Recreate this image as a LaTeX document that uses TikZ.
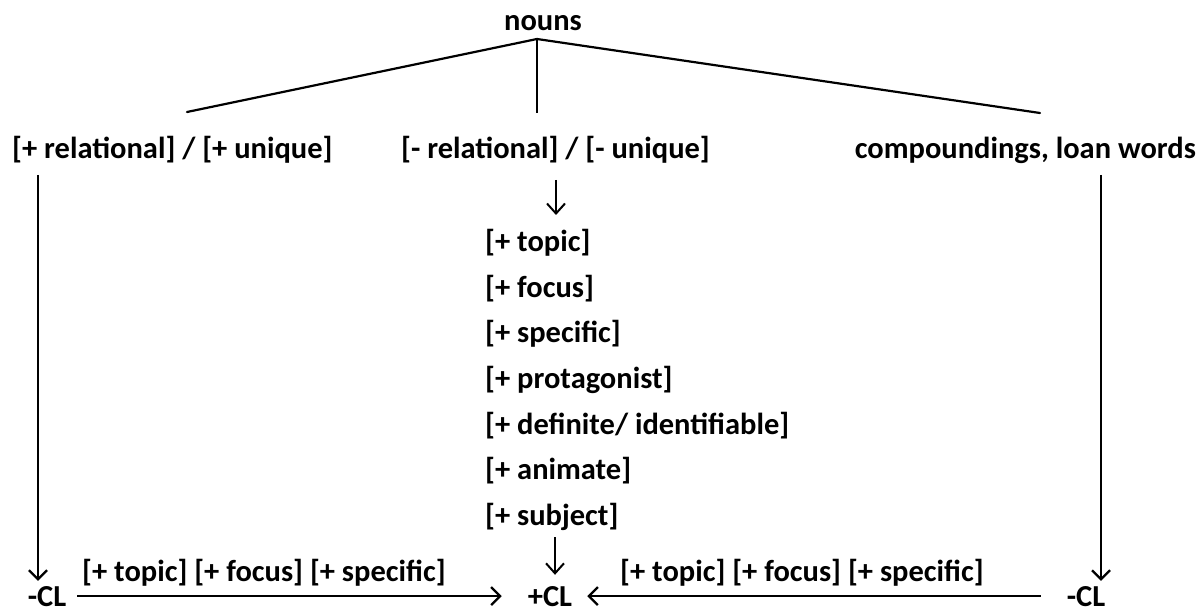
\documentclass[tikz,border=0pt]{standalone}
\usepackage{fontspec}
\setmainfont{Carlito}
\usetikzlibrary{arrows.meta}
\begin{document}
\begin{tikzpicture}[x=1pt,y=-1pt,
  lbl/.style={font=\bfseries\fontsize{30.5}{36}\selectfont, inner sep=0pt, anchor=base},
  feat/.style={lbl, anchor=base west},
  branch/.style={line width=2.2pt},
  longarr/.style={line width=2.2pt, -{Straight Barb[length=9pt,width=18pt,line width=2.2pt]}},
  shortarr/.style={line width=2pt, -{Straight Barb[length=10pt,width=18pt,line width=2pt]}}]
\useasboundingbox (0,0) rectangle (1200,612);

% tree
\node[lbl] (nouns) at (543,31) {nouns};
\coordinate (apex) at (537,39);
\coordinate (tl) at (187,112);
\coordinate (tm) at (537,113);
\coordinate (tr) at (1040,113);
\draw[branch, line cap=round] (tl) -- (apex) -- (tr);
\draw[branch] (apex) -- (tm);

\node[lbl, anchor=base west] (rel)  at (12,159) {[+ relational] / [+ unique]};
\node[lbl, anchor=base east] (nrel) at (710,159) {[- relational] / [- unique]};
\node[lbl, anchor=base east] (comp) at (1196,159) {compoundings, loan words};

% feature list
\node[feat] (f1) at (485,252) {[+ topic]};
\node[feat] (f2) at (485,297.5) {[+ focus]};
\node[feat] (f3) at (485,343) {[+ specific]};
\node[feat] (f4) at (485,388.5) {[+ protagonist]};
\node[feat] (f5) at (485,434) {[+ definite/ identifiable]};
\node[feat] (f6) at (485,479.5) {[+ animate]};
\node[feat] (f7) at (485,525) {[+ subject]};

% results
\node[lbl] (lcl) at (47,606) {-CL};
\node[lbl] (pcl) at (550,606) {+CL};
\node[lbl] (rcl) at (1086,606) {-CL};

\node[lbl, anchor=base west] (lfeat) at (82,581) {[+ topic] [+ focus] [+ specific]};
\node[lbl, anchor=base west] (rfeat) at (620,581) {[+ topic] [+ focus] [+ specific]};

% arrows
\coordinate (ltop) at (38,175);
\coordinate (rtop) at (1101,175);
\draw[longarr, shorten >=5pt] (ltop) -- (ltop |- lcl.north);
\draw[longarr, shorten >=5pt] (rtop) -- (rtop |- rcl.north);
\coordinate (mtop) at (556,180);
\coordinate (mtopend) at (556,215);
\draw[shortarr] (mtop) -- (mtopend);
\coordinate (mbot) at (555,537);
\draw[shortarr, shorten >=11pt] (mbot) -- (mbot |- pcl.north);
\draw[longarr, shorten <=11pt, shorten >=26pt] (lcl.east) -- (pcl.west);
\draw[longarr, shorten <=26pt, shorten >=15pt] (rcl.west) -- (pcl.east);
\end{tikzpicture}
\end{document}
